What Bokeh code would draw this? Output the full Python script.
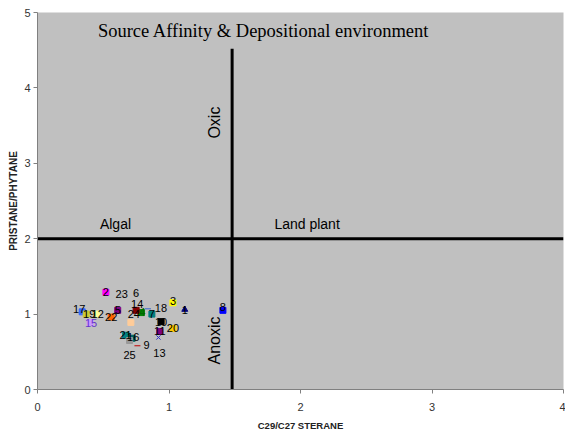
from bokeh.plotting import figure
from bokeh.models import Range1d, Label, ColumnDataSource, FixedTicker
from bokeh.core.properties import value
from bokeh.embed import file_html
from bokeh.resources import INLINE

# ---- data ----
labels = ["1", "2", "3", "4", "5", "6", "7", "8", "9", "10", "11", "12", "13",
          "14", "15", "16", "17", "18", "19", "20", "21", "22", "23", "24", "25"]
c29_c27 = [1.12, 0.52, 1.03, 0.79, 0.61, 0.75, 0.87, 1.41, 0.76, 0.94, 0.93, 0.45, 0.92,
           0.75, 0.40, 0.72, 0.34, 0.84, 0.37, 1.03, 0.67, 0.56, 0.64, 0.71, 0.70]
pr_ph = [1.06, 1.29, 1.15, 1.02, 1.05, 1.27, 1.00, 1.05, 0.58, 0.90, 0.77, 1.00, 0.69,
         1.05, 0.89, 0.68, 1.03, 1.07, 1.00, 0.81, 0.72, 0.96, 1.25, 0.89, 0.65]
colors = ["#000080", "#FF00FF", "#FFFF00", "#008000", "#800080", "#B0B0B0", "#008080",
          "#0000FF", "#C00000", "#000000", "#800080", "#FFFF99", "#3333CC", "#800000",
          "#CC99FF", "#006666", "#3366FF", "#3366CC", "#CCCC33", "#FFCC00", "#008080",
          "#FF6600", "#B0B0B0", "#FFCC99", "#999999"]
markers = ["triangle", "square", "square", "square", "square", "square", "square", "square",
           "dash", "square", "square", "square", "x", "square", "square", "square",
           "square", "dash", "square", "square", "square", "square", "square", "square", "square"]
marker_sizes = [6, 6, 6, 6, 6, 4, 6, 6, 6, 6, 6, 6, 6, 6, 6, 6, 6, 6, 6, 6, 6, 6, 4, 6, 6]
label_dx = [0, 0, 0, 1, 0, 0, 0, 0, 9, 0, 0, 1, 1, 1, 1, 1, -3, 13, 3, 0, 0, 0, 0, 3, 0]
label_dy = [0, 0, -2, -1, 0, -1, 0, -3, -1, 0, 0, 0, 16, -6, 1, -1, -3, -1, 0, 0, 0, 0, -1, -8, 15]
label_colors = ["#000000"] * 25
label_colors[3] = "#006600"
label_colors[14] = "#6633CC"

x_ticks = [0, 1, 2, 3, 4]
y_ticks = [0, 1, 2, 3, 4, 5]
pr_ph_boundary = 2.0
sterane_boundary = 1.48
sterane_line_top = 4.52

FONT = "Liberation Sans"

src = ColumnDataSource(dict(x=c29_c27, y=pr_ph, label=labels, color=colors, marker=markers,
                            size=marker_sizes, dx=label_dx, dy=label_dy, lcolor=label_colors))

p = figure(width=565, height=436, x_range=Range1d(0, 4), y_range=Range1d(0, 5),
           output_backend="svg", toolbar_location=None,
           min_border_left=37, min_border_right=2, min_border_top=12, min_border_bottom=47)
p.background_fill_color = "#C0C0C0"
p.border_fill_color = "white"
p.outline_line_color = None
p.xgrid.visible = False
p.ygrid.visible = False

for ax in (p.xaxis[0], p.yaxis[0]):
    ax.axis_line_color = "#808080"
    ax.major_tick_line_color = "#808080"
    ax.minor_tick_line_color = None
    ax.major_tick_out = 4
    ax.major_tick_in = 0
    ax.major_label_text_font = FONT
    ax.major_label_text_font_size = "11px"
    ax.major_label_text_color = "#333333"
    ax.axis_label_text_font = FONT
    ax.axis_label_text_font_style = "bold"
    ax.axis_label_text_color = "#222222"

p.xaxis.axis_label_text_font_size = "9.5px"
p.yaxis.axis_label_text_font_size = "10px"
p.xaxis.ticker = FixedTicker(ticks=x_ticks)
p.yaxis.ticker = FixedTicker(ticks=y_ticks)
p.xaxis.axis_label = "C29/C27 STERANE"
p.yaxis.axis_label = "PRISTANE/PHYTANE"
p.xaxis.major_label_standoff = 9
p.xaxis.axis_label_standoff = 6
p.yaxis.major_label_standoff = 3
p.yaxis.axis_label_standoff = 2

# boundary lines
p.line([0, 4], [pr_ph_boundary, pr_ph_boundary], line_color="black", line_width=3)
p.line([sterane_boundary, sterane_boundary], [0, sterane_line_top], line_color="black", line_width=3)

# points
p.scatter("x", "y", source=src, marker="marker", size="size", fill_color="color",
          line_color="color", line_width=1)
p.text("x", "y", text="label", source=src, x_offset="dx", y_offset="dy",
       text_align="center", text_baseline="middle", text_font=value(FONT),
       text_font_size="11px", text_color="lcolor")

# annotations
p.add_layout(Label(x=1.72, y=4.76, text="Source Affinity & Depositional environment",
                   text_font="Liberation Serif", text_font_size="18.5px", text_align="center",
                   text_baseline="middle", text_color="black"))
p.add_layout(Label(x=1.346, y=3.54, text="Oxic", angle=90, angle_units="deg",
                   text_font=FONT, text_font_size="16px", text_align="center",
                   text_baseline="middle", text_color="black"))
p.add_layout(Label(x=1.346, y=0.65, text="Anoxic", angle=90, angle_units="deg",
                   text_font=FONT, text_font_size="16px", text_align="center",
                   text_baseline="middle", text_color="black"))
p.add_layout(Label(x=0.593, y=2.20, text="Algal", text_font=FONT, text_font_size="14px",
                   text_align="center", text_baseline="middle", text_color="black"))
p.add_layout(Label(x=2.05, y=2.20, text="Land plant", text_font=FONT, text_font_size="14px",
                   text_align="center", text_baseline="middle", text_color="black"))

open("out.html", "w").write(file_html(p, INLINE))
